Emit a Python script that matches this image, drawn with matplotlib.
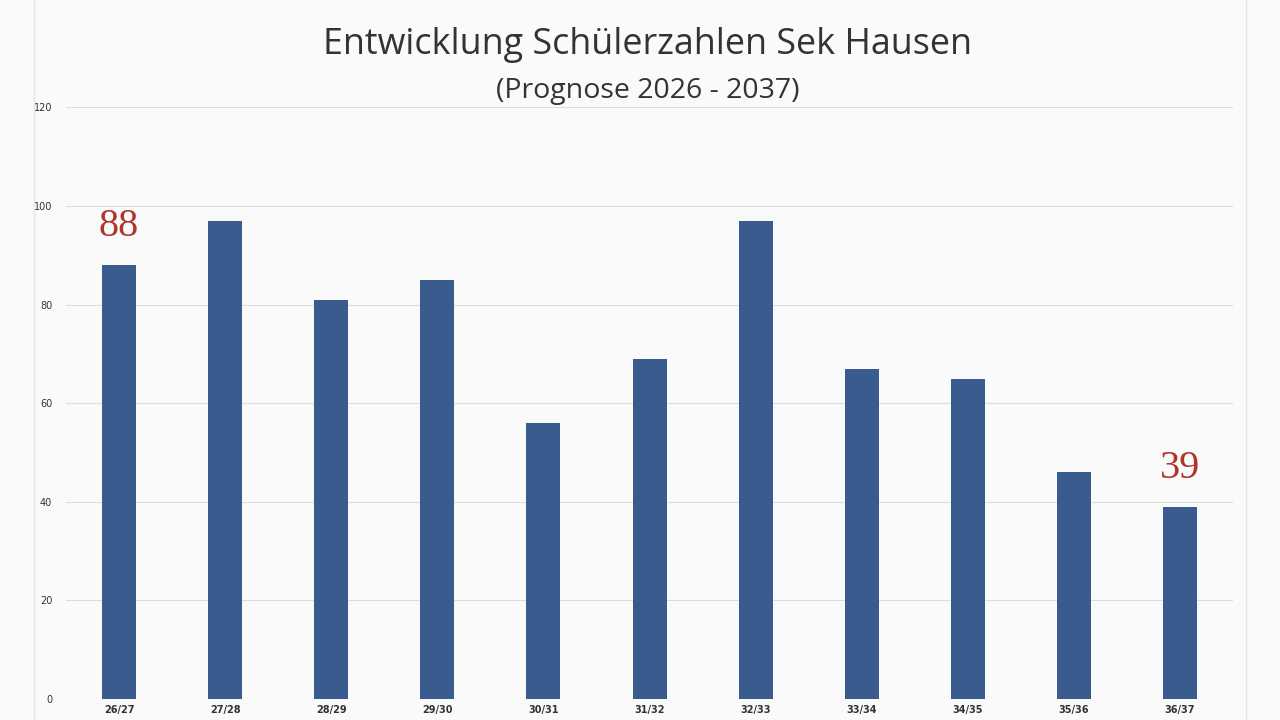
import matplotlib.pyplot as plt
from matplotlib.lines import Line2D

years = ["26/27", "27/28", "28/29", "29/30", "30/31", "31/32",
         "32/33", "33/34", "34/35", "35/36", "36/37"]
students = [88, 97, 81, 85, 56, 69, 97, 67, 65, 46, 39]
highlight = [0, 10]

fig = plt.figure(figsize=(12.8, 7.2), dpi=100, facecolor="#fafafa")
ax = fig.add_axes([0.0516, 0.029, 0.9117, 0.822])
ax.set_facecolor("#fafafa")

x = range(len(years))
ax.bar(x, students, width=0.32, color="#3a5b8e", zorder=3)
ax.set_xlim(-0.5, len(years) - 0.5)
ax.set_ylim(0, 120)
ax.set_yticks(range(0, 121, 20))
ax.set_xticks(list(x))
ax.set_xticklabels(years, fontsize=7, fontweight="bold", color="#333333")
ax.tick_params(axis="y", labelsize=7, colors="#333333", length=0, pad=10)
ax.tick_params(axis="x", length=0, pad=4)
ax.grid(axis="y", color="#dddddd", linewidth=0.8, zorder=0)
for s in ax.spines.values():
    s.set_visible(False)

for i in highlight:
    ax.text(i, students[i] + 4, str(students[i]), ha="center", va="bottom",
            fontsize=29, family="Liberation Serif", color="#b0362c")

fig.text(0.506, 0.937, "Entwicklung Schülerzahlen Sek Hausen", ha="center",
         va="center", fontsize=25.8, color="#333333", family="Open Sans")
fig.text(0.506, 0.874, "(Prognose 2026 - 2037)", ha="center", va="center",
         fontsize=20.5, color="#333333", family="Open Sans")

fig.add_artist(Line2D([34 / 1280, 34 / 1280], [0, 1], color="#e4e4e4", linewidth=1))
fig.add_artist(Line2D([1246 / 1280, 1246 / 1280], [0, 1], color="#e4e4e4", linewidth=1))

fig.savefig("out.png", dpi=100, facecolor=fig.get_facecolor())
